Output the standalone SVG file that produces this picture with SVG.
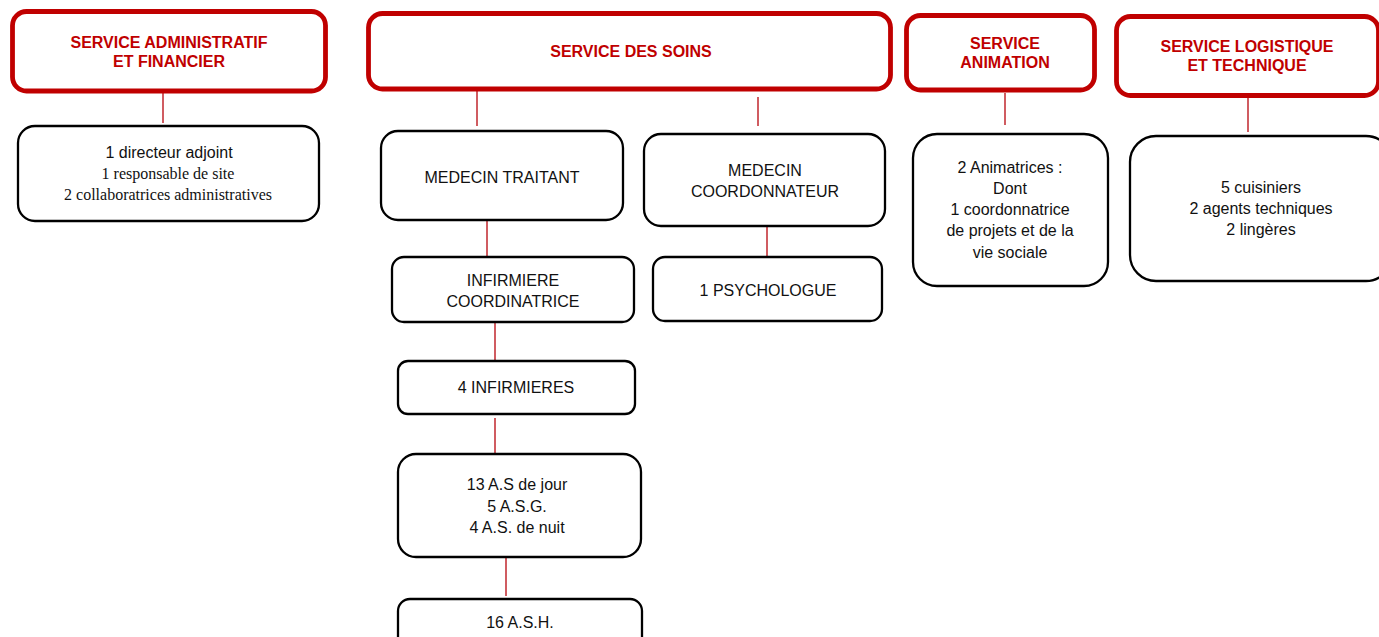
<svg xmlns="http://www.w3.org/2000/svg" width="1379" height="637" viewBox="0 0 1379 637">
<style>
.hdr{fill:#fff;stroke:#c00000;stroke-width:4.8}
.box{fill:#fff;stroke:#000;stroke-width:2.3}
.ht{font-family:"Liberation Sans",Arial,sans-serif;font-weight:bold;font-size:16px;fill:#c00000;text-anchor:middle}
.t{font-family:"Liberation Sans",Arial,sans-serif;font-size:16px;fill:#111;text-anchor:middle}
.s{font-family:"Liberation Serif","Times New Roman",serif;font-size:16px;fill:#111;text-anchor:middle}
.c{stroke:#c0262d;stroke-width:1.5;fill:none}
</style>
<g id="connectors">
<line class="c" x1="163" y1="93" x2="163" y2="123"/>
<line class="c" x1="477" y1="91" x2="477" y2="126"/>
<line class="c" x1="758" y1="97" x2="758" y2="126"/>
<line class="c" x1="487" y1="221" x2="487" y2="256"/>
<line class="c" x1="767" y1="223" x2="767" y2="258"/>
<line class="c" x1="495" y1="323" x2="495" y2="360"/>
<line class="c" x1="495" y1="418" x2="495" y2="453"/>
<line class="c" x1="506" y1="558" x2="506" y2="596"/>
<line class="c" x1="1005" y1="93" x2="1005" y2="125"/>
<line class="c" x1="1248" y1="98" x2="1248" y2="132"/>
</g>
<g id="admin-header">
<rect class="hdr" x="12.5" y="11.5" width="313" height="79.5" rx="14"/>
<text class="ht" x="169" y="48">SERVICE ADMINISTRATIF</text>
<text class="ht" x="169" y="67">ET FINANCIER</text>
</g>
<g id="admin-staff">
<rect class="box" x="18" y="126" width="301" height="95" rx="17"/>
<text class="t" x="169" y="158">1 directeur adjoint</text>
<text class="s" x="168" y="179">1 responsable de site</text>
<text class="s" x="168" y="200">2 collaboratrices administratives</text>
</g>
<g id="soins-header">
<rect class="hdr" x="368.5" y="13.5" width="522" height="75.5" rx="14"/>
<text class="ht" x="631" y="57">SERVICE DES SOINS</text>
</g>
<g id="medecin-traitant">
<rect class="box" x="381" y="131" width="242" height="89" rx="17"/>
<text class="t" x="502" y="183">MEDECIN TRAITANT</text>
</g>
<g id="medecin-coordonnateur">
<rect class="box" x="644" y="134" width="241" height="92" rx="17"/>
<text class="t" x="765" y="176">MEDECIN</text>
<text class="t" x="765" y="197">COORDONNATEUR</text>
</g>
<g id="infirmiere-coordinatrice">
<rect class="box" x="392" y="257" width="242" height="65" rx="12"/>
<text class="t" x="513" y="286">INFIRMIERE</text>
<text class="t" x="513" y="307">COORDINATRICE</text>
</g>
<g id="psychologue">
<rect class="box" x="653" y="257" width="229" height="64" rx="12"/>
<text class="t" x="768" y="296">1 PSYCHOLOGUE</text>
</g>
<g id="infirmieres">
<rect class="box" x="398" y="361" width="237" height="53" rx="10"/>
<text class="t" x="516" y="393">4 INFIRMIERES</text>
</g>
<g id="aides-soignants">
<rect class="box" x="398" y="454" width="243" height="103" rx="18"/>
<text class="t" x="517" y="490">13 A.S de jour</text>
<text class="t" x="517" y="512">5 A.S.G.</text>
<text class="t" x="517" y="533">4 A.S. de nuit</text>
</g>
<g id="ash">
<rect class="box" x="398" y="599" width="244" height="60" rx="12"/>
<text class="t" x="520" y="628">16 A.S.H.</text>
</g>
<g id="animation-header">
<rect class="hdr" x="906.5" y="15.5" width="188" height="74.5" rx="14"/>
<text class="ht" x="1005" y="49">SERVICE</text>
<text class="ht" x="1005" y="68">ANIMATION</text>
</g>
<g id="animation-staff">
<rect class="box" x="913" y="134" width="195" height="152" rx="24"/>
<text class="t" x="1010" y="173">2 Animatrices :</text>
<text class="t" x="1010" y="194">Dont</text>
<text class="t" x="1010" y="215">1 coordonnatrice</text>
<text class="t" x="1010" y="236">de projets et de la</text>
<text class="t" x="1010" y="258">vie sociale</text>
</g>
<g id="logistique-header">
<rect class="hdr" x="1116.5" y="16.5" width="262" height="79" rx="14"/>
<text class="ht" x="1247" y="52">SERVICE LOGISTIQUE</text>
<text class="ht" x="1247" y="71">ET TECHNIQUE</text>
</g>
<g id="logistique-staff">
<rect class="box" x="1130" y="136" width="262" height="145" rx="26"/>
<text class="t" x="1261" y="193">5 cuisiniers</text>
<text class="t" x="1261" y="214">2 agents techniques</text>
<text class="t" x="1261" y="235">2 lingères</text>
</g>
</svg>
